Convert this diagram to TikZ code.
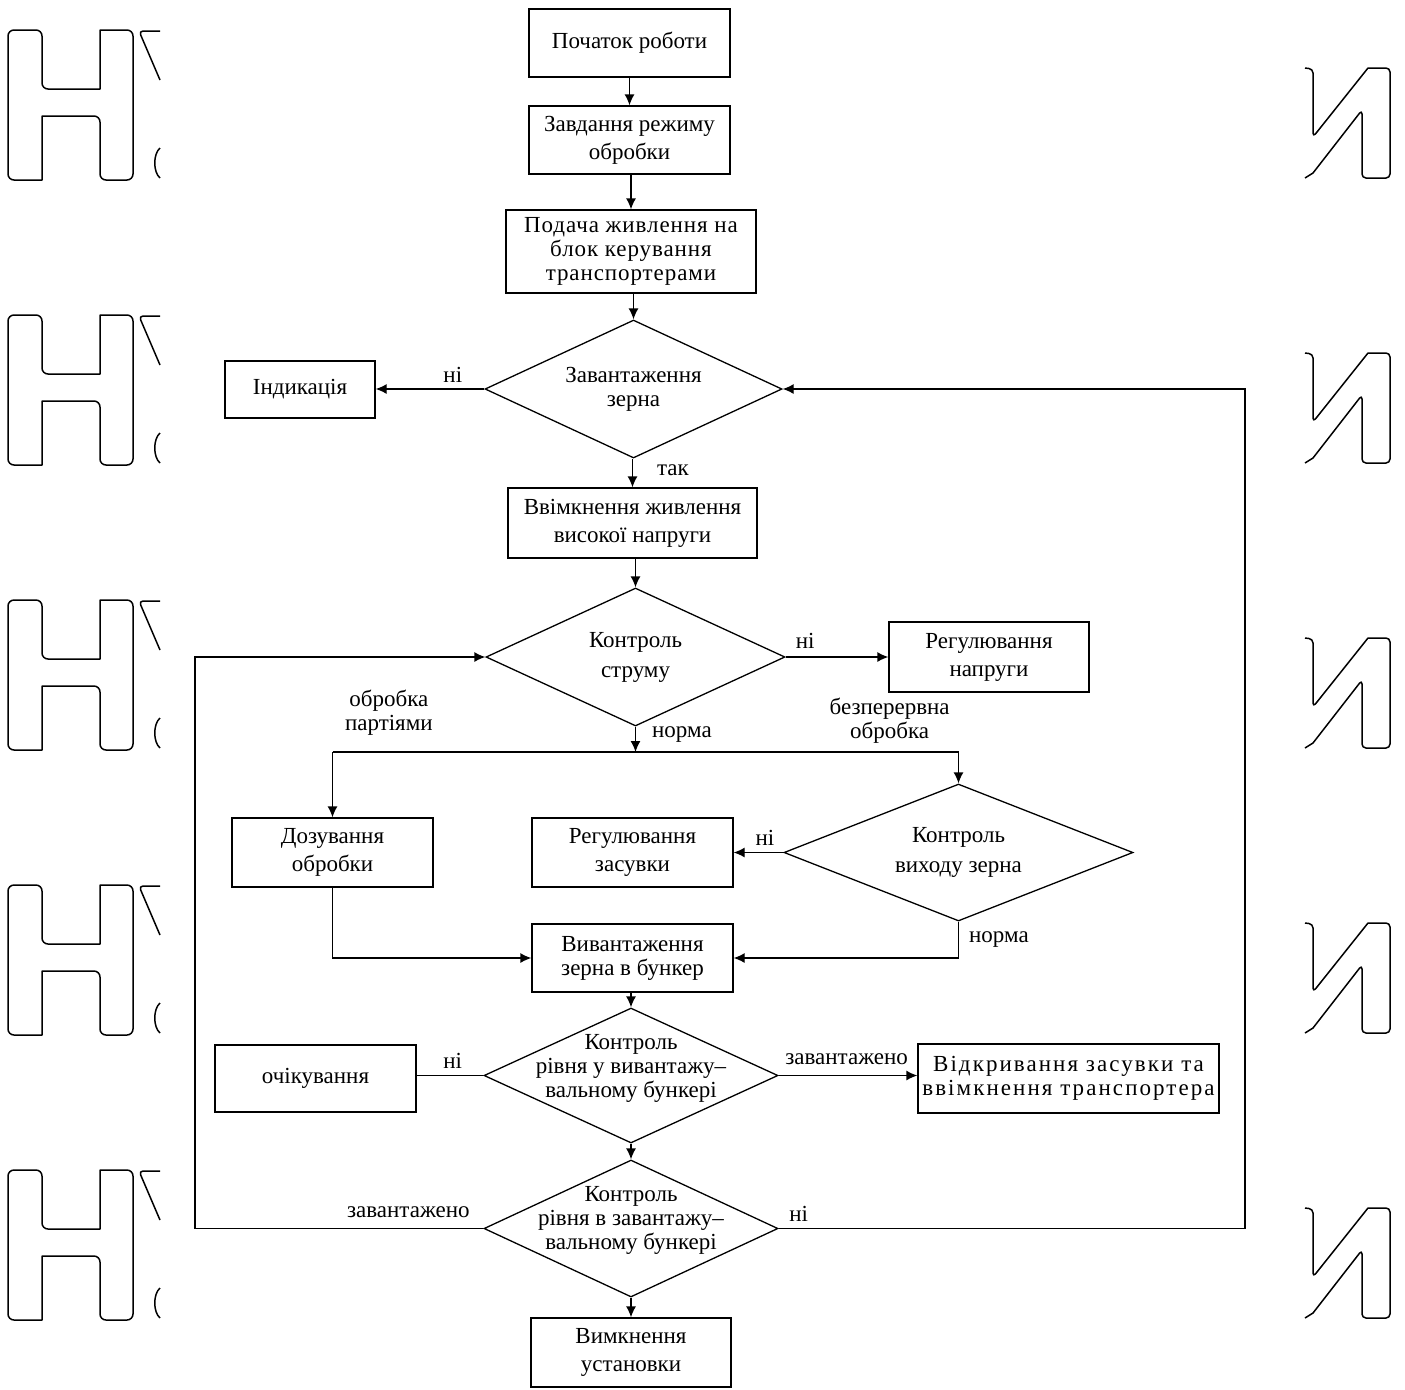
\documentclass[tikz,border=0pt]{standalone}
\usepackage{fontspec}
\setmainfont{Liberation Serif}
\usepackage{tikz}
\usetikzlibrary{arrows.meta,positioning,shapes.geometric}

\begin{document}
\begin{tikzpicture}[x=0.5pt,y=-0.5pt,
  font=\fontsize{11.5}{14}\selectfont,
  line width=0.65pt,
  block/.style={draw, rectangle, align=center, inner sep=1pt},
  decision/.style={draw, diamond, inner sep=0pt},
  arr/.style={-{Latex[length=5.5pt,width=5pt]}},
  lbl/.style={inner sep=3pt},
  tight/.style={font=\fontsize{11.5}{12}\selectfont},
  loose/.style={font=\fontsize{11.5}{15}\selectfont},
  spaced/.style={font=\fontsize{11.5}{12}\selectfont\addfontfeatures{LetterSpace=#1}},
  wmark/.style={line width=0.75pt, line join=round}]
  \useasboundingbox (0,0) rectangle (1405,1389);

  % watermark letters cut at both margins
  \foreach \dy in {0,285,570,855,1140} {
    \begin{scope}[shift={(0,\dy)}]
      \draw[wmark] (25,30) [rounded corners=3pt] -- (42,30) -- (42,89) [sharp corners] -- (100,89) -- (100,30)
        [rounded corners=3pt] -- (133,30) -- (133,180) -- (100,180) -- (100,116) [sharp corners] -- (42,116)
        -- (42,180) [rounded corners=3pt] -- (8,180) -- (8,30) -- cycle;
      \draw[wmark, rounded corners=2pt] (160,80) -- (139,31) -- (160,31);
      \draw[wmark] (160,148) .. controls (153,154) and (153,172) .. (160,178);
      \draw[wmark] (1305,68) [rounded corners=2pt] -- (1313,69) -- (1313,137) [sharp corners] -- (1368,68)
        [rounded corners=2pt] -- (1390,68) -- (1390,178) -- (1362,178) -- (1362,110) [sharp corners]
        -- (1313,173) [rounded corners=2pt] -- (1305,178);
    \end{scope}
  }

  % main column
  \node[block, minimum width=100.5pt, minimum height=34pt] (start) at (629.5,43) {Початок роботи};
  \node[block, minimum width=100.5pt, minimum height=34pt] (mode) at (629.5,140) {Завдання режиму\\обробки};
  \node[block, spaced=4, minimum width=125pt, minimum height=41.5pt] (power) at (631,251.5)
    {Подача живлення на\\блок керування\\транспортерами};
  \node[decision, minimum width=148.5pt, minimum height=69pt,
    label={[tight, align=center]center:Завантаження\\зерна}] (load) at (633.5,389) {};
  \node[block, minimum width=75pt, minimum height=28.5pt] (ind) at (300,389.5) {Індикація};
  \node[block, minimum width=124.5pt, minimum height=35pt] (hv) at (632.5,523)
    {Ввімкнення живлення\\високої напруги};
  \node[decision, minimum width=149.5pt, minimum height=69pt,
    label={[loose, align=center]center:Контроль\\струму}] (cur) at (635.5,657) {};
  \node[block, minimum width=100pt, minimum height=35pt] (regU) at (989,657) {Регулювання\\напруги};

  % branches
  \node[block, minimum width=100.5pt, minimum height=34.5pt] (dose) at (332.5,852.5) {Дозування\\обробки};
  \node[block, minimum width=100.5pt, minimum height=34.5pt] (regV) at (632.5,852.5) {Регулювання\\засувки};
  \node[decision, minimum width=174.5pt, minimum height=68.5pt,
    label={[loose, align=center]center:Контроль\\виходу зерна}] (exit) at (958.5,852.5) {};
  \node[block, tight, minimum width=100.5pt, minimum height=34pt] (unload) at (632.5,958)
    {Вивантаження\\зерна в бункер};

  % bunker levels
  \node[decision, minimum width=147pt, minimum height=67.5pt,
    label={[tight, align=center, yshift=3.5pt]center:Контроль\\рівня у вивантажу–\\вальному бункері}] (lvlU) at (631,1075.5) {};
  \node[block, minimum width=100.5pt, minimum height=33.5pt] (wait) at (315.5,1078.5) {очікування};
  \node[block, spaced=9, minimum width=150.5pt, minimum height=34.5pt] (open) at (1068.5,1078.5)
    {Відкривання засувки та\\ввімкнення транспортера};
  \node[decision, minimum width=147pt, minimum height=68.5pt,
    label={[tight, align=center, yshift=4pt]center:Контроль\\рівня в завантажу–\\вальному бункері}] (lvlL) at (631,1228.5) {};
  \node[block, minimum width=100pt, minimum height=34.5pt] (stop) at (631,1352.5) {Вимкнення\\установки};

  \coordinate (fork) at (635.5,752);
  \coordinate (rgt) at (1245,0);
  \coordinate (lft) at (195,0);

  % connectors
  \draw[arr] (start) -- (mode);
  \draw[arr] (mode.south -| power.north) -- (power.north);
  \draw[arr] (power.south -| load.north) -- (load.north);
  \draw[arr] (load.west) -- node[lbl, above, pos=0.29] {ні} (load.west -| ind.east);
  \draw[arr] (load.south -| hv.north) -- node[lbl, right, pos=0.4, xshift=9pt] {так} (hv.north);
  \draw[arr] (hv.south -| cur.north) -- (cur.north);
  \draw[arr] (cur.east) -- node[lbl, above, pos=0.19, yshift=1pt] {ні} (regU.west);
  \draw[arr] (cur.south) -- node[lbl, right, pos=0.3, xshift=5pt] {норма} (fork);
  \draw (fork -| dose.north) -- node[lbl, tight, align=center, above, pos=0.09, yshift=5pt] {обробка\\партіями}
    node[lbl, tight, align=center, above, pos=0.89, yshift=1pt] {безперервна\\обробка} (fork -| exit.north);
  \draw[arr] (fork -| dose.north) -- (dose.north);
  \draw[arr] (fork -| exit.north) -- (exit.north);
  \draw[arr] (exit.west) -- node[lbl, above, pos=0.37] {ні} (regV.east);
  \draw[arr] (exit.south) |- node[lbl, right, pos=0.24, xshift=2pt] {норма} (unload.east);
  \draw[arr] (dose.south) |- (unload.west);
  \draw[arr] (unload.south -| lvlU.north) -- (lvlU.north);
  \draw (lvlU.west) -- node[lbl, above, pos=0.46] {ні} (lvlU.west -| wait.east);
  \draw[arr] (lvlU.east) -- node[lbl, above, pos=0.49, yshift=2pt] {завантажено} (lvlU.east -| open.west);
  \draw[arr] (lvlU) -- (lvlL);
  \draw[arr] (lvlL) -- (stop);
  \draw[arr] (lvlL.east) -- node[lbl, above right, pos=0, xshift=2pt] {ні} (lvlL.east -| rgt) |- (load.east);
  \draw[arr] (lvlL.west) -- node[lbl, above, pos=0.26, yshift=2pt] {завантажено} (lvlL.west -| lft) |- (cur.west);
\end{tikzpicture}
\end{document}
